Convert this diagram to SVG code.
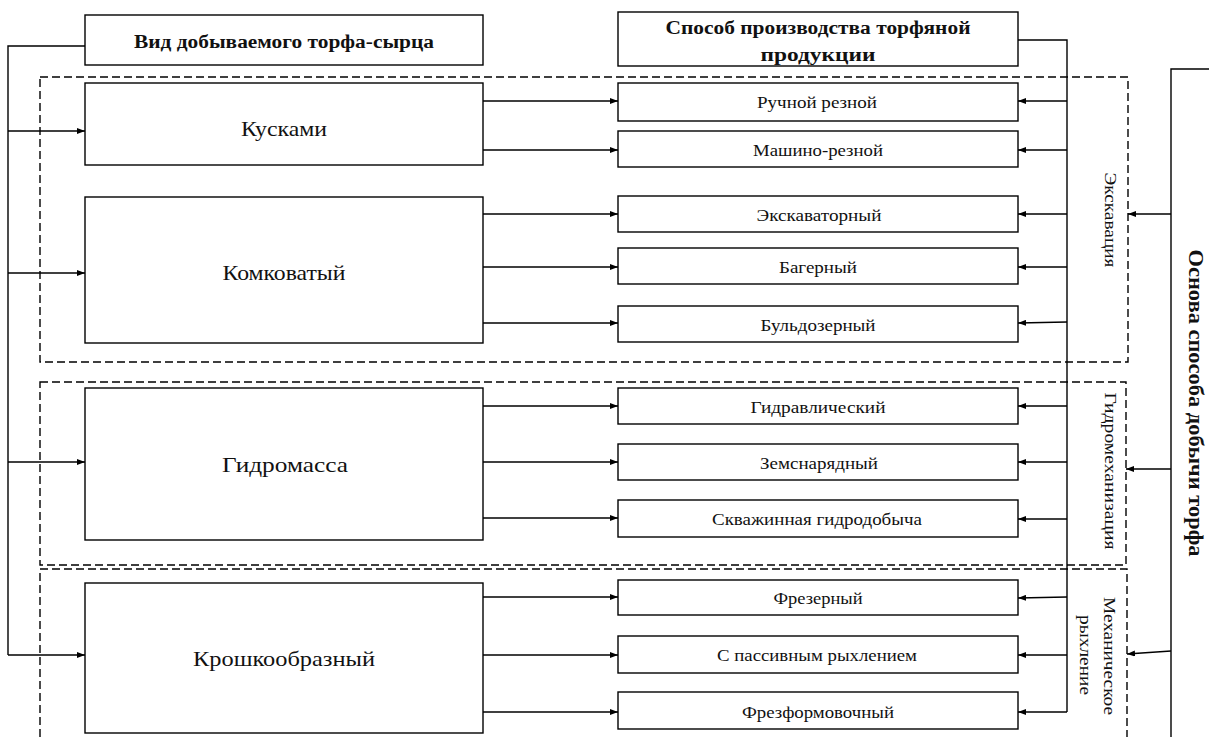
<svg xmlns="http://www.w3.org/2000/svg" width="1209" height="737" viewBox="0 0 1209 737">
<defs>
<marker id="ah" markerWidth="8" markerHeight="6" refX="8" refY="3" orient="auto" markerUnits="userSpaceOnUse"><path d="M0,0 L8,3 L0,6 z" fill="#000"/></marker>
</defs>
<style>
.box{fill:#fff;stroke:#000;stroke-width:1.4}
.dash{fill:none;stroke:#000;stroke-width:1.4;stroke-dasharray:8 4}
.ln{fill:none;stroke:#000;stroke-width:1.4}
.ar{fill:none;stroke:#000;stroke-width:1.5;marker-end:url(#ah)}
.t{font-family:"Liberation Serif","Times New Roman",serif;fill:#111;text-anchor:middle;dominant-baseline:central}
.big{font-size:22px}
.sm{font-size:17px}
.hb{font-size:18px;font-weight:bold}
</style>
<rect width="1209" height="737" fill="#fff"/>
<g id="groups">
<rect class="dash" x="40" y="77" width="1088" height="285"/>
<rect class="dash" x="40" y="382" width="1086" height="183"/>
<path class="dash" d="M40,737 V569 H1127 V737"/>
<text class="t sm" transform="translate(1110,220) rotate(90)" textLength="95" lengthAdjust="spacingAndGlyphs">Экскавация</text>
<text class="t sm" transform="translate(1110,471) rotate(90)" textLength="157" lengthAdjust="spacingAndGlyphs">Гидромеханизация</text>
<text class="t sm" transform="translate(1109,656) rotate(90)" textLength="118" lengthAdjust="spacingAndGlyphs">Механическое</text>
<text class="t sm" transform="translate(1085,655) rotate(90)" textLength="80" lengthAdjust="spacingAndGlyphs">рыхление</text>
<text class="t" style="font-size:20px;font-weight:bold" transform="translate(1196,403) rotate(90)" textLength="307" lengthAdjust="spacingAndGlyphs">Основа способа добычи торфа</text>
</g>
<g id="connectors">
<path class="ln" d="M85,46 H8 V655"/>
<path class="ar" d="M8,131 H85"/>
<path class="ar" d="M8,273 H85"/>
<path class="ar" d="M8,462 H85"/>
<path class="ar" d="M8,655 H85"/>
<path class="ln" d="M1018,40 H1067 V712"/>
<path class="ar" d="M1067,101 H1018"/>
<path class="ar" d="M1067,150 H1018"/>
<path class="ar" d="M1067,214 H1018"/>
<path class="ar" d="M1067,267 H1018"/>
<path class="ar" d="M1067,322 L1018,323"/>
<path class="ar" d="M1067,406 H1018"/>
<path class="ar" d="M1067,462 H1018"/>
<path class="ar" d="M1067,519 H1018"/>
<path class="ar" d="M1067,597 L1018,598"/>
<path class="ar" d="M1067,655 H1018"/>
<path class="ar" d="M1067,712 H1018"/>
<path class="ar" d="M483,101 H618"/>
<path class="ar" d="M483,150 H618"/>
<path class="ar" d="M483,214 H618"/>
<path class="ar" d="M483,267 H618"/>
<path class="ar" d="M483,323 H618"/>
<path class="ar" d="M483,406 H618"/>
<path class="ar" d="M483,462 H618"/>
<path class="ar" d="M483,518 H618"/>
<path class="ar" d="M483,597 H618"/>
<path class="ar" d="M483,655 H618"/>
<path class="ar" d="M483,712 H618"/>
<path class="ln" d="M1209,69 H1171 V737"/>
<path class="ar" d="M1171,214 H1128"/>
<path class="ar" d="M1171,469 H1126"/>
<path class="ar" d="M1171,651 L1127,654"/>
</g>
<g id="h1"><rect class="box" x="85" y="15" width="398" height="50"/><text class="t hb" x="284" y="42" textLength="300" lengthAdjust="spacingAndGlyphs">Вид добываемого торфа-сырца</text></g>
<g id="h2"><rect class="box" x="618" y="12" width="400" height="54"/><text class="t hb" x="818" y="28" textLength="305" lengthAdjust="spacingAndGlyphs">Способ производства торфяной</text><text class="t hb" x="818" y="55" textLength="115" lengthAdjust="spacingAndGlyphs">продукции</text></g>
<g id="n1"><rect class="box" x="85" y="83" width="398" height="82"/><text class="t big" x="284" y="128" textLength="86" lengthAdjust="spacingAndGlyphs">Кусками</text></g>
<g id="n2"><rect class="box" x="85" y="197" width="398" height="146"/><text class="t big" x="284" y="272" textLength="123" lengthAdjust="spacingAndGlyphs">Комковатый</text></g>
<g id="n3"><rect class="box" x="85" y="388" width="398" height="152"/><text class="t big" x="285" y="464" textLength="126" lengthAdjust="spacingAndGlyphs">Гидромасса</text></g>
<g id="n4"><rect class="box" x="85" y="583" width="398" height="150"/><text class="t big" x="284" y="658" textLength="182" lengthAdjust="spacingAndGlyphs">Крошкообразный</text></g>
<g id="r1"><rect class="box" x="618" y="83" width="400" height="38"/><text class="t sm" x="817" y="102" textLength="120" lengthAdjust="spacingAndGlyphs">Ручной резной</text></g>
<g id="r2"><rect class="box" x="618" y="131" width="400" height="36"/><text class="t sm" x="818" y="150" textLength="130" lengthAdjust="spacingAndGlyphs">Машино-резной</text></g>
<g id="r3"><rect class="box" x="618" y="196" width="400" height="36"/><text class="t sm" x="819" y="215" textLength="125" lengthAdjust="spacingAndGlyphs">Экскаваторный</text></g>
<g id="r4"><rect class="box" x="618" y="248" width="400" height="36"/><text class="t sm" x="818" y="267" textLength="78" lengthAdjust="spacingAndGlyphs">Багерный</text></g>
<g id="r5"><rect class="box" x="618" y="306" width="400" height="36"/><text class="t sm" x="818" y="325" textLength="115" lengthAdjust="spacingAndGlyphs">Бульдозерный</text></g>
<g id="r6"><rect class="box" x="618" y="388" width="400" height="36"/><text class="t sm" x="818" y="407" textLength="135" lengthAdjust="spacingAndGlyphs">Гидравлический</text></g>
<g id="r7"><rect class="box" x="618" y="444" width="400" height="36"/><text class="t sm" x="819" y="463" textLength="118" lengthAdjust="spacingAndGlyphs">Земснарядный</text></g>
<g id="r8"><rect class="box" x="618" y="500" width="400" height="37"/><text class="t sm" x="817" y="519" textLength="210" lengthAdjust="spacingAndGlyphs">Скважинная гидродобыча</text></g>
<g id="r9"><rect class="box" x="618" y="580" width="400" height="35"/><text class="t sm" x="818" y="598" textLength="89" lengthAdjust="spacingAndGlyphs">Фрезерный</text></g>
<g id="r10"><rect class="box" x="618" y="636" width="400" height="37"/><text class="t sm" x="817" y="655" textLength="200" lengthAdjust="spacingAndGlyphs">С пассивным рыхлением</text></g>
<g id="r11"><rect class="box" x="618" y="692" width="400" height="37"/><text class="t sm" x="818" y="712" textLength="152" lengthAdjust="spacingAndGlyphs">Фрезформовочный</text></g>
</svg>
